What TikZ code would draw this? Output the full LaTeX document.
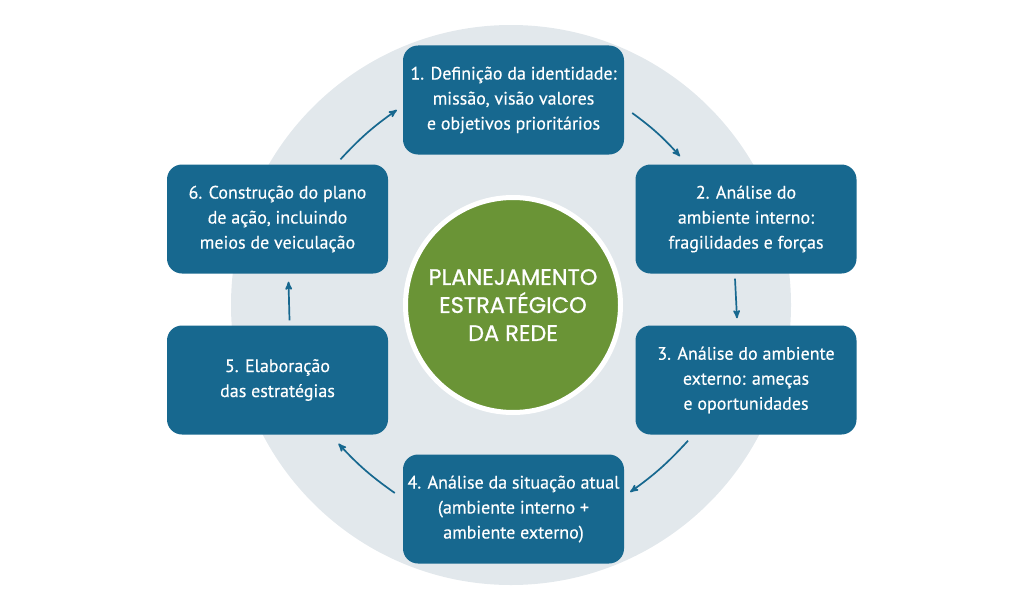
\documentclass[tikz,border=0pt]{standalone}
\usepackage{fontspec}
\setmainfont{PT Sans}
\newfontfamily\boxfont{PT Sans}[FakeBold=0.4]
\newfontfamily\titlefont{Poppins}[FakeBold=0.8]
\usetikzlibrary{arrows}
\definecolor{azul}{HTML}{17688F}
\definecolor{verde}{HTML}{6A9436}
\definecolor{fundo}{HTML}{E2E8EC}

\begin{document}
\begin{tikzpicture}[x=1pt,y=-1pt,
	etapa/.style={rectangle,rounded corners=15pt,fill=azul,text=white,minimum width=221pt,minimum height=109pt,align=center,font=\boxfont\fontsize{18}{25}\selectfont},
	seta/.style={->,>=stealth',line width=1.7pt,azul}]
	\useasboundingbox (0,0) rectangle (1024,610);
	\fill[fundo] (511,305) circle (280);
	\node[circle,fill=verde,draw=white,line width=5pt,minimum size=215pt,text=white,align=center,font=\titlefont\fontsize{22.5}{28}\selectfont] (c) at (513,305) {PLANEJAMENTO\\ESTRATÉGICO\\DA REDE};
	\node[etapa] (b1) at (513.5,100) {1. Definição da identidade:\\missão, visão valores\\e objetivos prioritários};
	\node[etapa] (b2) at (746,219) {2. Análise do\\ambiente interno:\\fragilidades e forças};
	\node[etapa] (b3) at (746,380) {3. Análise do ambiente\\externo: ameças\\e oportunidades};
	\node[etapa] (b4) at (513.5,509) {4. Análise da situação atual\\(ambiente interno +\\ambiente externo)};
	\node[etapa] (b5) at (277.5,380) {5. Elaboração\\das estratégias};
	\node[etapa] (b6) at (277.5,219) {6. Construção do plano\\de ação, incluindo\\meios de veiculação};
	\draw[seta] ([shift={(8,13)}]b1.east) to[bend left=6] ([shift={(-66,-8)}]b2.north);
	\draw[seta] ([shift={(-11,5)}]b2.south) -- ([shift={(-9,-7)}]b3.north);
	\draw[seta] ([shift={(-58,6)}]b3.south) to[bend left=6] ([shift={(6,-17)}]b4.east);
	\draw[seta] ([shift={(-8,-16)}]b4.west) to[bend left=6] ([shift={(61,9)}]b5.south);
	\draw[seta] ([shift={(12,-5)}]b5.north) -- ([shift={(11,8)}]b6.south);
	\draw[seta] ([shift={(63,-5)}]b6.north) to[bend left=6] ([shift={(-6,10)}]b1.west);
\end{tikzpicture}
\end{document}
